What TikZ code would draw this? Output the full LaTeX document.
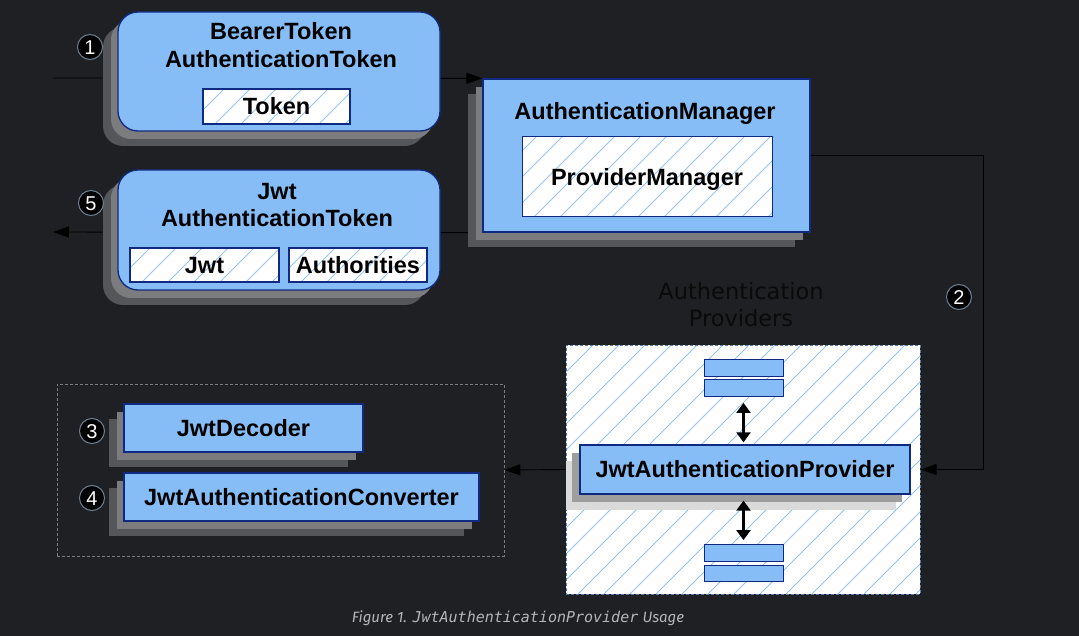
\documentclass[tikz,border=0pt]{standalone}
\usepackage{fontspec}
\setmainfont{Liberation Sans}
\newfontfamily\labelfont{DejaVu Sans}
\newfontfamily\capfont{Fira Sans}
\newfontfamily\capmono{DejaVu Sans Mono}[ItalicFont={DejaVu Sans Mono Oblique}]
\usetikzlibrary{arrows.meta, shadows}

\definecolor{bgdark}{RGB}{30,32,35}
\definecolor{boxblue}{RGB}{135,189,246}
\definecolor{boxline}{RGB}{16,42,130}
\definecolor{shadefar}{RGB}{84,86,90}
\definecolor{shadenear}{RGB}{124,124,126}
\definecolor{paleshadefar}{RGB}{218,218,218}
\definecolor{paleshadenear}{RGB}{158,158,158}
\definecolor{hatch}{RGB}{150,195,240}
\definecolor{groupline}{RGB}{125,125,125}
\definecolor{frameline}{RGB}{95,125,170}
\definecolor{ringline}{RGB}{110,128,145}
\definecolor{captext}{RGB}{180,182,186}
\definecolor{darklabel}{RGB}{10,10,10}

\pgfdeclarelayer{back}
\pgfdeclarelayer{wires}
\pgfsetlayers{back,wires,main}

\begin{document}
\begin{tikzpicture}[x=1pt, y=-1pt,
    every node/.style={inner sep=0pt, text height=16.8pt, text depth=0pt,
        font=\fontsize{23.5}{27}\selectfont\bfseries},
    bluebox/.style={draw=boxline, line width=1.3pt, fill=boxblue},
    stacked/.style={general shadow={fill=shadefar, shadow xshift=-15pt, shadow yshift=-15pt},
        general shadow={fill=shadenear, shadow xshift=-7pt, shadow yshift=-8pt}},
    palestacked/.style={general shadow={fill=paleshadefar, shadow xshift=-14pt, shadow yshift=-16pt},
        general shadow={fill=paleshadenear, shadow xshift=-8pt, shadow yshift=-8pt}},
    hatched/.style={fill=white, path picture={
        \foreach \k in {0,...,30}
            \draw[hatch, solid, line width=0.9pt] ([xshift=\k*26pt-300pt]path picture bounding box.south west) -- ++(600pt,600pt);
        }},
    innerbox/.style={hatched, draw=boxline, line width=1.3pt},
    bar/.style={bluebox, line width=1pt, minimum width=79pt, minimum height=14pt},
    callout/.style={circle, fill=black, draw=ringline, line width=1pt, minimum size=25pt,
        text=white, text height=14.3pt, font=\fontsize{20}{20}\selectfont},
    wire/.style={line width=0.9pt, draw=black},
    wirearrow/.style={wire, -{Triangle[length=16pt, width=11pt]}},
    dblarrow/.style={line width=2.2pt, {Triangle[length=10pt, width=14pt]}-{Triangle[length=10pt, width=14pt]}},
]
\useasboundingbox (0,0) rectangle (1079,636);
\begin{pgfonlayer}{back}
    \fill[bgdark] (0,0) rectangle (1079,636);
\end{pgfonlayer}

% tokens
\node[bluebox, stacked, rounded corners=20pt, minimum width=322pt, minimum height=119pt] (bearer) at (279,71.5) {};
\node (bearer-l1) at (281,31.5) {BearerToken};
\node (bearer-l2) at (281,59) {AuthenticationToken};
\node[innerbox, minimum width=147pt, minimum height=35pt] (token) at (276.5,106.5) {Token};

\node[bluebox, stacked, rounded corners=20pt, minimum width=322pt, minimum height=120pt] (jwttoken) at (279,230) {};
\node (jwttoken-l1) at (277,191.5) {Jwt};
\node (jwttoken-l2) at (277,218) {AuthenticationToken};
\node[innerbox, minimum width=149pt, minimum height=34pt] (jwt) at (204.5,265) {Jwt};
\node[innerbox, minimum width=138pt, minimum height=34pt] (authorities) at (358,265) {Authorities};

% manager
\node[bluebox, stacked, minimum width=327pt, minimum height=153pt] (manager) at (646.5,155.5) {};
\node (manager-title) at (645,111.5) {AuthenticationManager};
\node[innerbox, line width=1pt, minimum width=250pt, minimum height=80pt] (provmgr) at (647,177) {ProviderManager};

% providers
\node[font=\labelfont\fontsize{22.5}{27}\selectfont, text=darklabel, text height=16.4pt] (prov-l1) at (741,291) {Authentication};
\node[font=\labelfont\fontsize{22.5}{27}\selectfont, text=darklabel, text height=16.4pt] (prov-l2) at (741,318) {Providers};
\node[hatched, draw=frameline, line width=1pt, dash pattern=on 3pt off 2pt,
    minimum width=354pt, minimum height=249pt] (container) at (743,469.5) {};
\foreach \n/\y in {b1/368, b2/388, b3/553, b4/573.5}
    \node[bar] (\n) at (743.5,\y) {};
\node[bluebox, palestacked, minimum width=330pt, minimum height=49pt] (provider) at (745,469.5) {JwtAuthenticationProvider};

% decoder and converter
\node[draw=groupline, line width=0.8pt, dash pattern=on 3pt off 2pt,
    minimum width=447pt, minimum height=172pt] (group) at (280.5,470) {};
\node[bluebox, stacked, minimum width=239pt, minimum height=48pt] (decoder) at (243.5,428) {JwtDecoder};
\node[bluebox, stacked, minimum width=355pt, minimum height=48pt] (converter) at (301.5,497) {JwtAuthenticationConverter};

% numbers
\foreach \n/\x/\y in {1/90/47, 2/959/297, 3/92/431, 4/92/498, 5/91/203}
    \node[callout] (num\n) at (\x,\y) {\n};

% connectors
\coordinate (in) at (53,78);
\coordinate (out) at (53,232);
\coordinate (turn) at (983,300);
\begin{pgfonlayer}{wires}
    \draw[wirearrow] (in) -- (manager.north west);
    \draw[wirearrow] (manager.south west) -- (out);
    \draw[wirearrow] (manager.east) -- (manager.east -| turn) -- (turn |- container.east) -- (container.east);
    \draw[wirearrow] (container.west) -- (group.east);
\end{pgfonlayer}
\draw[dblarrow, shorten <=6pt, shorten >=2pt] (b2.south) -- (b2.south |- provider.north);
\draw[dblarrow, shorten <=6pt, shorten >=4pt] (b3.north |- provider.south) -- (b3.north);

\node[text=captext, text height=10.5pt, font=\fontsize{15}{18}\selectfont] (caption) at (518,617.5)
    {{\capfont\itshape Figure 1.} {\capmono\itshape JwtAuthenticationProvider} {\capfont\itshape Usage}};
\end{tikzpicture}
\end{document}
